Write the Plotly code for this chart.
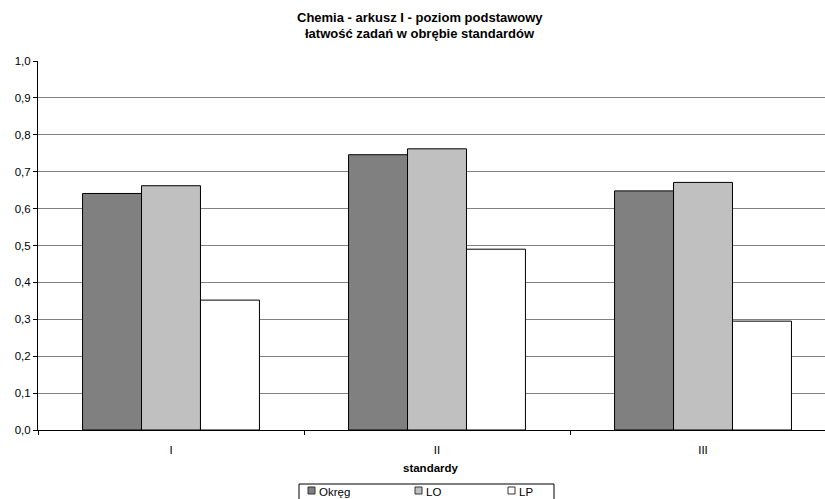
import plotly.graph_objects as go

categories = ["I", "II", "III"]
okreg = [0.641, 0.746, 0.648]
lo = [0.662, 0.762, 0.671]
lp = [0.352, 0.490, 0.295]
series_names = ["Okręg", "LO", "LP"]
series_colors = ["#808080", "#C0C0C0", "#FFFFFF"]
title_lines = ["Chemia - arkusz I - poziom podstawowy", "łatwość zadań w obrębie standardów"]
x_title = "standardy"

FONT = "Liberation Sans, Arial, sans-serif"

W, H = 825, 499
ML, MR, MT, MB = 38, 0, 61, 69
PW = W - ML - MR
PH = H - MT - MB


def px(xp):
    return (xp - ML) / PW


def py(yp):
    return (H - MB - yp) / PH


fig = go.Figure()
for name, vals, col in zip(series_names, [okreg, lo, lp], series_colors):
    fig.add_trace(go.Bar(
        x=categories, y=vals, name=name,
        marker=dict(color=col, line=dict(color="#000000", width=1)),
    ))

shapes = []
annotations = []

# legend box
shapes.append(dict(type="rect", xref="paper", yref="paper",
                   x0=px(299), x1=px(554), y0=py(505), y1=py(484),
                   line=dict(color="black", width=1), fillcolor="white", layer="above"))
leg_x = [308, 415, 508]
for name, col, lx in zip(series_names, series_colors, leg_x):
    shapes.append(dict(type="rect", xref="paper", yref="paper",
                       x0=px(lx), x1=px(lx + 7), y0=py(494), y1=py(487),
                       line=dict(color="#333333", width=1), fillcolor=col, layer="above"))
    annotations.append(dict(text=name, xref="paper", yref="paper",
                            x=px(lx + 8.5), y=py(492), xanchor="left", yanchor="middle",
                            showarrow=False, font=dict(family=FONT, size=11.5, color="black")))

annotations.append(dict(
    text="<b>" + x_title + "</b>", xref="paper", yref="paper", x=px(431), y=py(468),
    xanchor="center", yanchor="middle", showarrow=False,
    font=dict(family=FONT, size=11.5, color="black")))

for line, yc in zip(title_lines, [18, 34]):
    annotations.append(dict(
        text="<b>" + line + "</b>",
        xref="paper", yref="paper", x=px(420), y=py(yc), xanchor="center", yanchor="middle",
        showarrow=False, font=dict(family=FONT, size=13, color="black")))

fig.update_layout(
    width=W, height=H,
    margin=dict(l=ML, r=MR, t=MT, b=MB, autoexpand=False),
    paper_bgcolor="white", plot_bgcolor="white",
    font=dict(family=FONT, size=11.5, color="black"),
    separators=", ",
    barmode="group", bargap=0.335, bargroupgap=0,
    showlegend=False,
    xaxis=dict(
        type="category", range=[-0.5, 2.4586], automargin=False,
        showline=True, linecolor="black", linewidth=1,
        ticks="outside", tickson="boundaries", ticklen=4, tickcolor="black",
        ticklabelstandoff=9,
        showgrid=False,
    ),
    yaxis=dict(
        range=[0, 1], dtick=0.1, tickformat=".1f", automargin=False,
        showline=True, linecolor="black", linewidth=1,
        ticks="outside", ticklen=4, tickcolor="black",
        showgrid=True, gridcolor="#808080", gridwidth=1,
        zeroline=False,
    ),
    shapes=shapes,
    annotations=annotations,
)

fig.write_html("out.html", config={"displayModeBar": False, "staticPlot": True},
               post_script="document.body.style.margin='0';document.body.style.overflow='hidden';")
